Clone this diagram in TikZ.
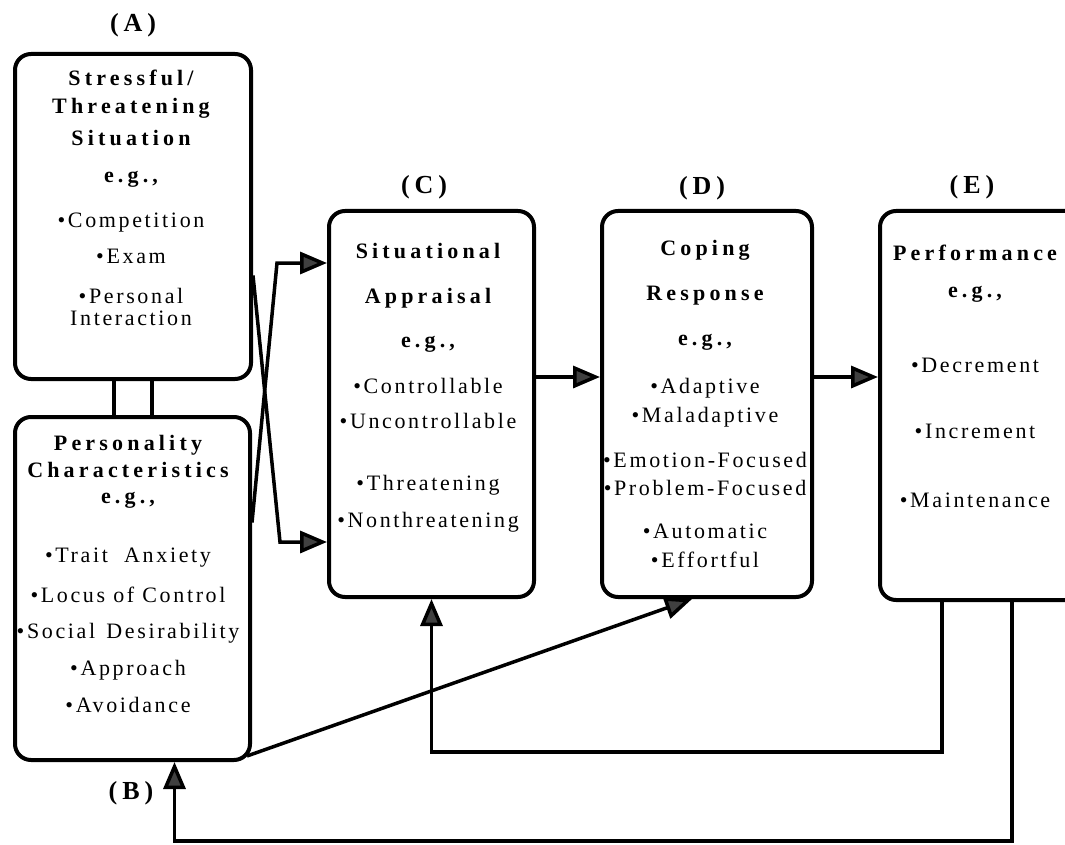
\documentclass[tikz,border=0pt]{standalone}
\usepackage{fontspec}
\setmainfont{Liberation Serif}[LetterSpace=12]
\newfontfamily\ttlfont{Liberation Serif}[LetterSpace=19]
\usetikzlibrary{arrows.meta}
\newcommand\hd[1]{{\ttlfont\bfseries #1}}
\begin{document}
\begin{tikzpicture}[x=1pt, y=-1pt,
    box/.style = {draw, line width=4pt, rounded corners=16pt, inner sep=0pt, anchor=north west},
    txt/.style = {inner sep=0pt, text height=15pt, text depth=4pt, font=\fontsize{22}{26}\selectfont},
    lbl/.style = {inner sep=0pt, font=\fontsize{26}{30}\selectfont\ttlfont\bfseries},
    arr/.style = {line width=3.5pt, -{Triangle[length=27pt, width=22pt, fill=black!75]}}]
  \useasboundingbox (0,0) rectangle (1065,845);
  % boxes
  \node[box, minimum width=236pt, minimum height=325pt] (A) at (13,52) {};
  \node[box, minimum width=235pt, minimum height=343pt] (B) at (13,415) {};
  \node[box, minimum width=205pt, minimum height=386pt] (C) at (327,209) {};
  \node[box, minimum width=210pt, minimum height=386pt] (D) at (600,209) {};
  \node[box, minimum width=212pt, minimum height=389pt] (E) at (878,209) {};
  % labels
  \node[lbl] (la) at (133,25) {(A)};
  \node[lbl] (lb) at (131,793) {(B)};
  \node[lbl] (lc) at (424,187) {(C)};
  \node[lbl] (ld) at (702,188) {(D)};
  \node[lbl] (le) at (972,187) {(E)};
  % texts
  \foreach \y/\t [count=\i] in {80/\hd{Stressful/}, 108/\hd{Threatening}, 140/\hd{Situation},
      177/\hd{e.g.,}, 222/{\textbullet Competition}, 258/{\textbullet Exam},
      298/{\textbullet Personal}, 320/Interaction}
    \node[txt] (a\i) at (131,\y) {\t};
  \foreach \y/\t [count=\i] in {445/\hd{Personality}, 472/\hd{Characteristics}, 498/\hd{e.g.,},
      557/{\textbullet Trait\ \ Anxiety}, 597/{\textbullet Locus of Control},
      633/{\textbullet Social\hspace{3pt} Desirability}, 670/{\textbullet Approach}, 707/{\textbullet Avoidance}}
    \node[txt] (b\i) at (128,\y) {\t};
  \foreach \y/\t [count=\i] in {253/\hd{Situational}, 298/\hd{Appraisal}, 342/\hd{e.g.,},
      388/{\textbullet Controllable}, 423/{\textbullet Uncontrollable},
      485/{\textbullet Threatening}, 522/{\textbullet Nonthreatening}}
    \node[txt] (c\i) at (428,\y) {\t};
  \foreach \y/\t [count=\i] in {250/\hd{Coping}, 295/\hd{Response}, 340/\hd{e.g.,},
      388/{\textbullet Adaptive}, 417/{\textbullet Maladaptive},
      462/{\textbullet Emotion-Focused}, 490/{\textbullet Problem-Focused},
      533/{\textbullet Automatic}, 562/{\textbullet Effortful}}
    \node[txt] (d\i) at (705,\y) {\t};
  \foreach \y/\t [count=\i] in {255/\hd{Performance}, 292/\hd{e.g.,},
      367/{\textbullet Decrement}, 433/{\textbullet Increment}, 502/{\textbullet Maintenance}}
    \node[txt] (e\i) at (975,\y) {\t};
  % links
  \draw[line width=3.5pt] ([xshift=-19pt]A.south) -- ([xshift=-19pt]A.south |- B.north);
  \draw[line width=3.5pt] ([xshift=19pt]A.south) -- ([xshift=19pt]A.south |- B.north);
  \coordinate (k1) at (277,263);
  \coordinate (k2) at (280,542);
  \draw[arr] ([yshift=66pt]B.east) -- (k1) -- (k1 -| C.west);
  \draw[arr] ([yshift=-59pt]A.east) -- (k2) -- (k2 -| C.west);
  \draw[arr] ([yshift=27pt]C.east) -- ([yshift=27pt]C.east -| D.west);
  \draw[arr] ([yshift=27pt]D.east) -- ([yshift=27pt]D.east -| E.west);
  \draw[arr] ([shift={(-5pt,6pt)}]B.south east) -- ([xshift=-15pt]D.south);
  % feedback
  \coordinate (f1) at (942,752);
  \coordinate (f2) at (1012,841);
  \draw[arr] (f1 |- E.south) -- (f1) -| (C.south);
  \draw[arr] (f2 |- E.south) -- (f2) -| ([xshift=42pt]B.south);
\end{tikzpicture}
\end{document}
